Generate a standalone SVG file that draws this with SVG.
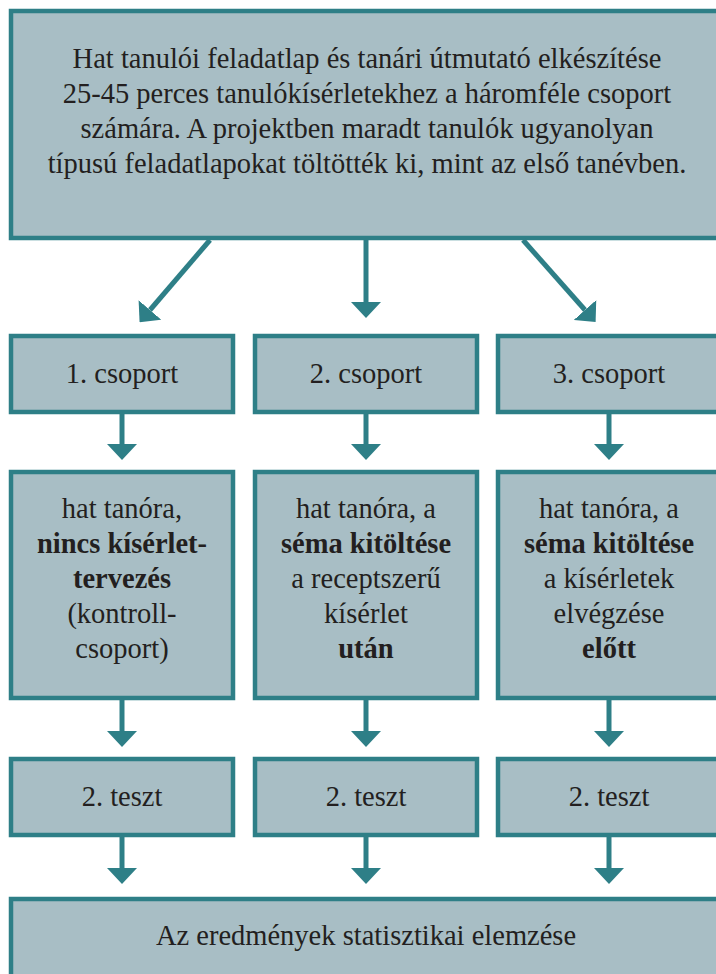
<svg xmlns="http://www.w3.org/2000/svg" width="716" height="974" viewBox="0 0 716 974" font-family="Liberation Serif, DejaVu Serif, serif">
<defs>
<style>
.box{fill:#a8bec5;stroke:#2e7f87;stroke-width:4.5}
.t{font-size:28.5px;fill:#231f20;text-anchor:middle}
.b{font-weight:bold}
.ln{stroke:#2e7f87;stroke-width:5;fill:none}
.hd{fill:#2e7f87}
</style>
<marker id="ah" viewBox="0 0 16 30" refX="0" refY="15" markerWidth="16" markerHeight="30" markerUnits="userSpaceOnUse" orient="auto"><path d="M0,0 L16,15 L0,30 Z" class="hd"/></marker>
</defs>
<g id="top">
<rect class="box" x="11" y="11" width="720" height="227"/>
<text class="t" x="367" y="68">Hat tanulói feladatlap és tanári útmutató elkészítése</text>
<text class="t" x="367" y="103">25-45 perces tanulókísérletekhez a háromféle csoport</text>
<text class="t" x="367" y="138">számára. A projektben maradt tanulók ugyanolyan</text>
<text class="t" x="367" y="173">típusú feladatlapokat töltötték ki, mint az első tanévben.</text>
</g>
<g id="g1"><rect class="box" x="11" y="336" width="222" height="76"/><text class="t" x="122" y="383">1. csoport</text></g>
<g id="g2"><rect class="box" x="255" y="336" width="222" height="76"/><text class="t" x="366" y="383">2. csoport</text></g>
<g id="g3"><rect class="box" x="498" y="336" width="230" height="76"/><text class="t" x="609" y="383">3. csoport</text></g>
<g id="d1"><rect class="box" x="11" y="472" width="222" height="226"/>
<text class="t" x="122" y="518">hat tanóra,</text>
<text class="t b" x="122" y="553">nincs kísérlet-</text>
<text class="t b" x="122" y="588">tervezés</text>
<text class="t" x="122" y="623">(kontroll-</text>
<text class="t" x="122" y="658">csoport)</text></g>
<g id="d2"><rect class="box" x="255" y="472" width="222" height="226"/>
<text class="t" x="366" y="518">hat tanóra, a</text>
<text class="t b" x="366" y="553">séma kitöltése</text>
<text class="t" x="366" y="588">a receptszerű</text>
<text class="t" x="366" y="623">kísérlet</text>
<text class="t b" x="366" y="658">után</text></g>
<g id="d3"><rect class="box" x="498" y="472" width="230" height="226"/>
<text class="t" x="609" y="518">hat tanóra, a</text>
<text class="t b" x="609" y="553">séma kitöltése</text>
<text class="t" x="609" y="588">a kísérletek</text>
<text class="t" x="609" y="623">elvégzése</text>
<text class="t b" x="609" y="658">előtt</text></g>
<g id="t1"><rect class="box" x="11" y="759" width="222" height="76"/><text class="t" x="122" y="806">2. teszt</text></g>
<g id="t2"><rect class="box" x="255" y="759" width="222" height="76"/><text class="t" x="366" y="806">2. teszt</text></g>
<g id="t3"><rect class="box" x="498" y="759" width="230" height="76"/><text class="t" x="609" y="806">2. teszt</text></g>
<g id="res"><rect class="box" x="11" y="899" width="720" height="90"/><text class="t" x="366" y="945">Az eredmények statisztikai elemzése</text></g>
<g id="connectors">
<line class="ln" x1="210" y1="240" x2="150" y2="310" marker-end="url(#ah)"/>
<line class="ln" x1="366" y1="240" x2="366" y2="302" marker-end="url(#ah)"/>
<line class="ln" x1="523" y1="240" x2="585" y2="310" marker-end="url(#ah)"/>
<line class="ln" x1="122" y1="414" x2="122" y2="444" marker-end="url(#ah)"/>
<line class="ln" x1="366" y1="414" x2="366" y2="444" marker-end="url(#ah)"/>
<line class="ln" x1="609" y1="414" x2="609" y2="444" marker-end="url(#ah)"/>
<line class="ln" x1="122" y1="700" x2="122" y2="731" marker-end="url(#ah)"/>
<line class="ln" x1="366" y1="700" x2="366" y2="731" marker-end="url(#ah)"/>
<line class="ln" x1="609" y1="700" x2="609" y2="731" marker-end="url(#ah)"/>
<line class="ln" x1="122" y1="837" x2="122" y2="868" marker-end="url(#ah)"/>
<line class="ln" x1="366" y1="837" x2="366" y2="868" marker-end="url(#ah)"/>
<line class="ln" x1="609" y1="837" x2="609" y2="868" marker-end="url(#ah)"/>
</g>
</svg>
